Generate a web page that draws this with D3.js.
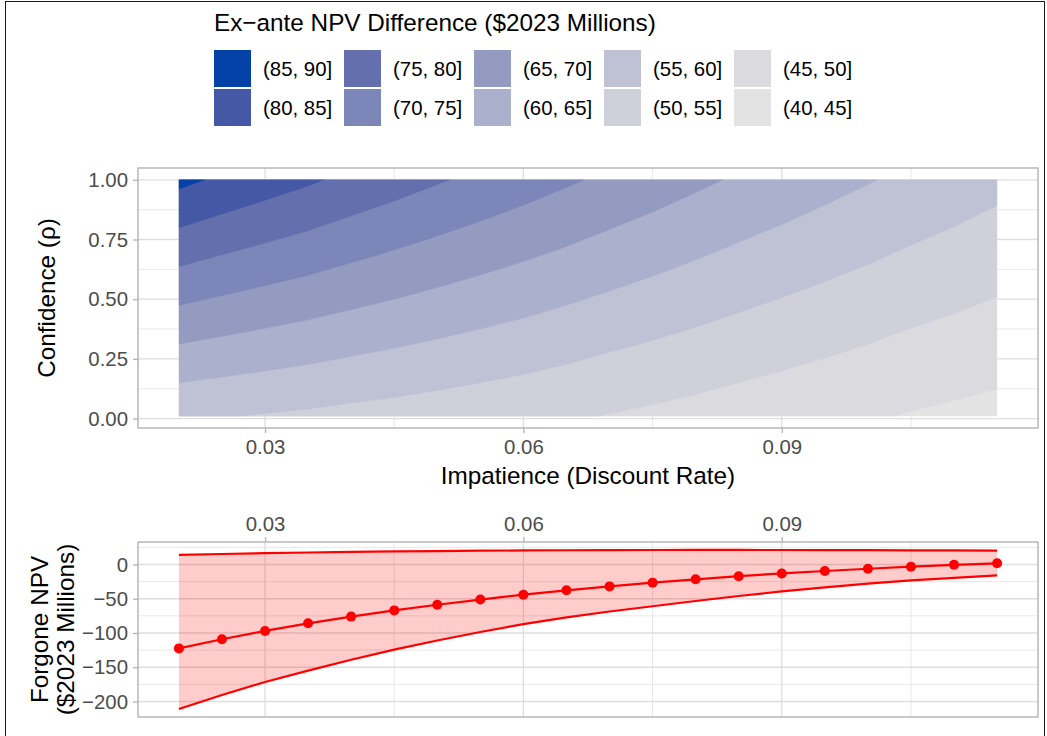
<!DOCTYPE html>
<html>
<head>
<meta charset="utf-8">
<script src="https://cdn.jsdelivr.net/npm/d3@7"></script>
<style>
  body { margin: 0; background: #fff; }
  svg { display: block; font-family: "Liberation Sans", Arial, Helvetica, sans-serif; }
</style>
</head>
<body>
<svg id="chart" width="1047" height="736"></svg>
<script>
// ---- Data -------------------------------------------------------------
// Discount rates evaluated (shared by both panels)
const discountRates = [0.02, 0.025, 0.03, 0.035, 0.04, 0.045, 0.05, 0.055, 0.06, 0.065,
                       0.07, 0.075, 0.08, 0.085, 0.09, 0.095, 0.1, 0.105, 0.11, 0.115];

// Confidence levels at which the ex-ante NPV difference is tabulated
const confidenceLevels = [0.01, 1];
// Ex-ante NPV difference ($2023 millions) at the lowest confidence level
const npvDiffLowConfidence = [55.7, 55.2, 54.7, 54.2, 53.6, 53.1, 52.5, 51.9, 51.3, 50.6,
                              49.8, 49.1, 48.4, 47.6, 46.9, 46.2, 45.5, 44.7, 44.1, 43.5];
// Ex-ante NPV difference ($2023 millions) at full confidence
const npvDiffFullConfidence = [86.2, 84.2, 82.4, 80.7, 78.85, 77.15, 75.45, 73.85, 72.25, 70.65,
                               69.05, 67.5, 65.95, 64.45, 63.05, 61.65, 60.3, 58.95, 57.7, 56.4];

// Contour bands
const bandBreaks = [40, 45, 50, 55, 60, 65, 70, 75, 80, 85, 90];
const bandLabels = ["(40, 45]", "(45, 50]", "(50, 55]", "(55, 60]", "(60, 65]",
                    "(65, 70]", "(70, 75]", "(75, 80]", "(80, 85]", "(85, 90]"];
const bandColors = ["#E3E3E3", "#DBDBDF", "#D0D0DA", "#BFC2D5", "#ABB0CC",
                    "#949BC1", "#7D86B8", "#6370AD", "#4458A6", "#0542A8"];

// Forgone NPV ($2023 millions): point estimate and band
const forgoneMean  = [-122.5, -109.2, -97.0, -85.9, -76.1, -67.0, -58.8, -51.2, -44.1, -37.7,
                      -32.0, -26.5, -21.6, -17.1, -13.1, -9.5, -6.2, -3.2, -0.5, 1.7];
const forgoneUpper = [14.0, 15.3, 16.5, 17.5, 18.3, 19.0, 19.6, 20.1, 20.5, 20.8,
                      21.0, 21.1, 21.2, 21.2, 21.1, 21.0, 20.9, 20.7, 20.5, 20.3];
const forgoneLower = [-211, -190.5, -171.5, -155, -139, -124.3, -111, -98.5, -87, -77.2,
                      -68.6, -61, -53.3, -46, -39.3, -33.3, -28, -23.3, -19.5, -16];

// Axis breaks
const rateTicks = [0.03, 0.06, 0.09];
const rateMinor = [0.045, 0.075, 0.105];
const confidenceTicks = [0, 0.25, 0.5, 0.75, 1];
const confidenceMinor = [0.125, 0.375, 0.625, 0.875];
const forgoneTicks = [-200, -150, -100, -50, 0];
const forgoneMinor = [-175, -125, -75, -25, 25];

// ---- Layout -----------------------------------------------------------
const svg = d3.select("#chart");
const panelX = [138, 1038];
const topPanelY = [168, 428];
const botPanelY = [542, 717];

const GRID = "#DEDEDE", BORDER = "#B3B3B3", TICKTXT = "#4D4D4D";
const TITLE_SIZE = "24.3px", SMALL_SIZE = "20.4px";

// ggplot-style 5% expansion of a data range
function expand(ext, f = 0.05) {
  const d = (ext[1] - ext[0]) * f;
  return [ext[0] - d, ext[1] + d];
}

const x = d3.scaleLinear().domain(expand(d3.extent(discountRates))).range(panelX);
const yTop = d3.scaleLinear().domain(expand(d3.extent(confidenceLevels))).range([topPanelY[1], topPanelY[0]]);
const yBot = d3.scaleLinear()
  .domain(expand([d3.min(forgoneLower), d3.max(forgoneUpper)]))
  .range([botPanelY[1], botPanelY[0]]);

// outer frame
svg.append("rect").attr("x", 5.5).attr("y", 1.5).attr("width", 1039).attr("height", 760)
  .attr("fill", "none").attr("stroke", "#1a1a1a").attr("stroke-width", 1);

function drawGrid(g, yScale, py, yMajor, yMinor) {
  yMinor.forEach(v => g.append("line").attr("x1", panelX[0]).attr("x2", panelX[1])
    .attr("y1", yScale(v)).attr("y2", yScale(v)).attr("stroke", GRID).attr("stroke-width", 0.7));
  rateMinor.forEach(v => g.append("line").attr("y1", py[0]).attr("y2", py[1])
    .attr("x1", x(v)).attr("x2", x(v)).attr("stroke", GRID).attr("stroke-width", 0.7));
  yMajor.forEach(v => g.append("line").attr("x1", panelX[0]).attr("x2", panelX[1])
    .attr("y1", yScale(v)).attr("y2", yScale(v)).attr("stroke", GRID).attr("stroke-width", 1.3));
  rateTicks.forEach(v => g.append("line").attr("y1", py[0]).attr("y2", py[1])
    .attr("x1", x(v)).attr("x2", x(v)).attr("stroke", GRID).attr("stroke-width", 1.3));
}

function styleAxis(g) {
  g.select(".domain").remove();
  g.selectAll(".tick line").attr("stroke", BORDER).attr("stroke-width", 1.3);
  g.selectAll(".tick text").attr("fill", TICKTXT).style("font-size", SMALL_SIZE)
    .style("font-family", "'Liberation Sans', Arial, sans-serif");
}

// ---- Top panel: filled contours ---------------------------------------
const topG = svg.append("g");
drawGrid(topG, yTop, topPanelY, confidenceTicks, confidenceMinor);

const nx = discountRates.length, ny = confidenceLevels.length;
const gridValues = [...npvDiffLowConfidence, ...npvDiffFullConfidence];
const contours = d3.contours().size([nx, ny]).thresholds(bandBreaks.slice(0, -1))(gridValues);

// grid sample i sits at contour coordinate i + 0.5
const gx2rate = d3.scaleLinear().domain([0.5, nx - 0.5]).range([discountRates[0], discountRates[nx - 1]]);
const gy2conf = d3.scaleLinear().domain([0.5, ny - 0.5]).range([confidenceLevels[0], confidenceLevels[ny - 1]]);
const proj = d3.geoTransform({
  point(px, py) { this.stream.point(x(gx2rate(px)), yTop(gy2conf(py))); }
});
const cpath = d3.geoPath(proj);

const clipX0 = x(discountRates[0]), clipX1 = x(discountRates[nx - 1]);
const clipY0 = yTop(confidenceLevels[ny - 1]), clipY1 = yTop(confidenceLevels[0]);
svg.append("defs").append("clipPath").attr("id", "dataClip")
  .append("rect").attr("x", clipX0).attr("y", clipY0)
  .attr("width", clipX1 - clipX0).attr("height", clipY1 - clipY0);

topG.append("g").attr("clip-path", "url(#dataClip)")
  .selectAll("path").data(contours).join("path")
  .attr("d", cpath)
  .attr("fill", (d, i) => bandColors[i])
  .attr("stroke", (d, i) => bandColors[i])
  .attr("stroke-width", 0.4);

topG.append("rect").attr("x", panelX[0]).attr("y", topPanelY[0])
  .attr("width", panelX[1] - panelX[0]).attr("height", topPanelY[1] - topPanelY[0])
  .attr("fill", "none").attr("stroke", BORDER).attr("stroke-width", 1.4);

svg.append("g").attr("transform", `translate(0,${topPanelY[1]})`)
  .call(d3.axisBottom(x).tickValues(rateTicks).tickSize(5).tickPadding(7).tickFormat(d3.format(".2f")))
  .call(styleAxis);
svg.append("g").attr("transform", `translate(${panelX[0]},0)`)
  .call(d3.axisLeft(yTop).tickValues(confidenceTicks).tickSize(5).tickPadding(5).tickFormat(d3.format(".2f")))
  .call(styleAxis);

svg.append("text").attr("x", (panelX[0] + panelX[1]) / 2).attr("y", 484)
  .attr("text-anchor", "middle").style("font-size", TITLE_SIZE).attr("fill", "#000")
  .text("Impatience (Discount Rate)");
svg.append("text").attr("transform", `translate(55,${(topPanelY[0] + topPanelY[1]) / 2}) rotate(-90)`)
  .attr("text-anchor", "middle").style("font-size", TITLE_SIZE).attr("fill", "#000")
  .text("Confidence (ρ)");

// ---- Bottom panel: forgone NPV ----------------------------------------
const botG = svg.append("g");
drawGrid(botG, yBot, botPanelY, forgoneTicks, forgoneMinor);

const idx = d3.range(discountRates.length);
botG.append("path")
  .attr("d", d3.area().x(i => x(discountRates[i])).y0(i => yBot(forgoneLower[i])).y1(i => yBot(forgoneUpper[i]))(idx))
  .attr("fill", "#FF0000").attr("fill-opacity", 0.2);

[forgoneUpper, forgoneLower, forgoneMean].forEach(series => {
  botG.append("path")
    .attr("d", d3.line().x(i => x(discountRates[i])).y(i => yBot(series[i]))(idx))
    .attr("fill", "none").attr("stroke", "#FF0000").attr("stroke-width", 2.2);
});

botG.selectAll("circle").data(idx).join("circle")
  .attr("cx", i => x(discountRates[i])).attr("cy", i => yBot(forgoneMean[i]))
  .attr("r", 5).attr("fill", "#FF0000");

botG.append("rect").attr("x", panelX[0]).attr("y", botPanelY[0])
  .attr("width", panelX[1] - panelX[0]).attr("height", botPanelY[1] - botPanelY[0])
  .attr("fill", "none").attr("stroke", BORDER).attr("stroke-width", 1.4);

svg.append("g").attr("transform", `translate(0,${botPanelY[0]})`)
  .call(d3.axisTop(x).tickValues(rateTicks).tickSize(5).tickPadding(6).tickFormat(d3.format(".2f")))
  .call(styleAxis);
svg.append("g").attr("transform", `translate(${panelX[0]},0)`)
  .call(d3.axisLeft(yBot).tickValues(forgoneTicks).tickSize(5).tickPadding(5).tickFormat(d3.format("d")))
  .call(styleAxis);

const botMid = (botPanelY[0] + botPanelY[1]) / 2;
[["Forgone NPV", 48], ["($2023 Millions)", 74]].forEach(([t, bx]) => {
  svg.append("text").attr("transform", `translate(${bx},${botMid}) rotate(-90)`)
    .attr("text-anchor", "middle").style("font-size", TITLE_SIZE).attr("fill", "#000").text(t);
});

// ---- Legend -----------------------------------------------------------
const leg = svg.append("g");
leg.append("text").attr("x", 214).attr("y", 31).style("font-size", TITLE_SIZE).attr("fill", "#000")
  .text("Ex\u2212ante NPV Difference ($2023 Millions)");

// keys run column-wise from the highest band down
const legendOrder = d3.range(bandLabels.length).reverse();
legendOrder.forEach((b, k) => {
  const col = Math.floor(k / 2), row = k % 2;
  const kx = 214 + col * 130, ky = 50 + row * 39;
  leg.append("rect").attr("x", kx).attr("y", ky).attr("width", 37).attr("height", 37)
    .attr("fill", bandColors[b]);
  leg.append("text").attr("x", kx + 49).attr("y", ky + 18.5).attr("dy", "0.35em")
    .style("font-size", SMALL_SIZE).attr("fill", "#000").text(bandLabels[b]);
});
</script>
</body>
</html>
